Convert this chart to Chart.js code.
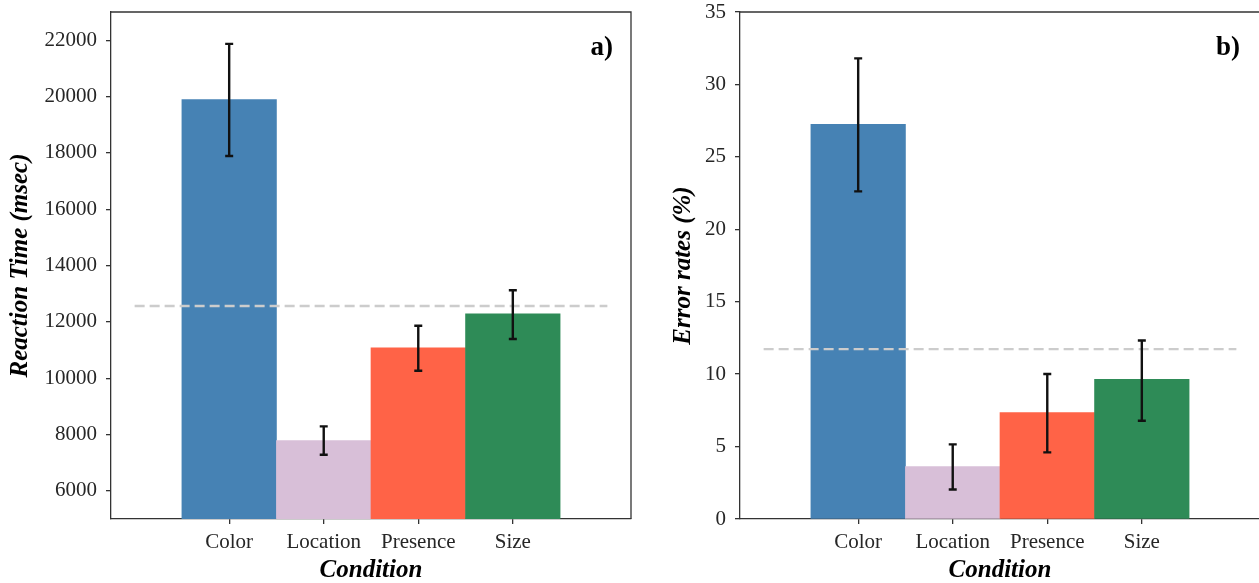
<!DOCTYPE html>
<html>
<head>
<meta charset="utf-8">
<script src="https://cdn.jsdelivr.net/npm/chart.js@4"></script>
<style>
  html, body { margin: 0; padding: 0; background: #fff; width: 1259px; height: 583px; overflow: hidden; }
  canvas { position: absolute; top: 0; }
  #rt { left: 0; }
  #err { left: 629px; }
</style>
</head>
<body>
<canvas id="rt" width="640" height="583"></canvas>
<canvas id="err" width="632" height="583"></canvas>
<script>
// conditions on the x axis
var conditions = ['Color', 'Location', 'Presence', 'Size'];
var barColors = ['#4682b4', '#d8bfd8', '#ff6347', '#2e8b57'];

// a) reaction time, msec
var rtMean = [19890, 7780, 11075, 12280];
var rtLow  = [17890, 7280, 10265, 11390];
var rtHigh = [21870, 8290, 11860, 13120];
var rtGrand = 12560;
var rtTicks = [6000, 8000, 10000, 12000, 14000, 16000, 18000, 20000, 22000];

// b) error rates, %
var errMean = [27.25, 3.62, 7.35, 9.65];
var errLow  = [22.62, 2.04, 4.60, 6.78];
var errHigh = [31.80, 5.15, 10.01, 12.32];
var errGrand = 11.73;
var errTicks = [0, 5, 10, 15, 20, 25, 30, 35];

var AXIS = '#333333';
var SERIF = "'Liberation Serif', 'Times New Roman', serif";

// top + right spines
var frame = {
  id: 'frame',
  afterDraw: function(chart) {
    var a = chart.chartArea, c = chart.ctx;
    c.save();
    c.strokeStyle = AXIS;
    c.lineWidth = 1.3;
    c.beginPath();
    c.moveTo(a.left, a.top);
    c.lineTo(a.right, a.top);
    c.lineTo(a.right, a.bottom);
    c.stroke();
    c.restore();
  }
};

// error bars + panel letter
var extras = {
  id: 'extras',
  afterDatasetsDraw: function(chart, args, opts) {
    var c = chart.ctx, xs = chart.scales.x, ys = chart.scales.y;
    c.save();
    c.strokeStyle = '#111';
    c.lineWidth = 2.4;
    for (var i = 0; i < opts.low.length; i++) {
      var x = xs.getPixelForValue(i);
      var y1 = ys.getPixelForValue(opts.low[i]);
      var y2 = ys.getPixelForValue(opts.high[i]);
      c.beginPath();
      c.moveTo(x, y1); c.lineTo(x, y2);
      c.moveTo(x - 4, y1); c.lineTo(x + 4, y1);
      c.moveTo(x - 4, y2); c.lineTo(x + 4, y2);
      c.stroke();
    }
    var a = chart.chartArea;
    c.fillStyle = '#000';
    c.font = 'bold 27px ' + SERIF;
    c.textAlign = 'right';
    c.textBaseline = 'alphabetic';
    c.fillText(opts.letter, a.right - opts.inset, a.top + 43);
    c.restore();
  }
};

function makeChart(id, means, low, high, grand, ticks, yMin, yMax, yTitle, titlePad, padRight, letter, inset) {
  var pts = means.map(function(v, i) { return { x: i, y: v }; });
  return new Chart(document.getElementById(id), {
    type: 'bar',
    data: {
      datasets: [{
        type: 'bar',
        data: pts,
        backgroundColor: barColors,
        borderWidth: 0,
        barPercentage: 1,
        categoryPercentage: 1,
        order: 2
      }, {
        type: 'line',
        data: [{ x: -1, y: grand }, { x: 4, y: grand }],
        borderColor: '#cccccc',
        borderWidth: 2.4,
        borderDash: [10, 5],
        pointRadius: 0,
        order: 1
      }]
    },
    options: {
      responsive: false,
      animation: false,
      devicePixelRatio: 1,
      layout: { padding: { top: 12, right: padRight, bottom: 0, left: 0 } },
      plugins: {
        legend: { display: false },
        tooltip: { enabled: false },
        extras: { low: low, high: high, letter: letter, inset: inset }
      },
      scales: {
        x: {
          type: 'linear',
          min: -1.25,
          max: 4.25,
          offset: false,
          afterBuildTicks: function(s) { s.ticks = [0, 1, 2, 3].map(function(v) { return { value: v }; }); },
          afterFit: function(s) { s.height = 64; s.paddingLeft = 0; s.paddingRight = 0; },
          ticks: {
            callback: function(v) { return conditions[v]; },
            font: { family: SERIF, size: 21 },
            color: '#262626',
            padding: 6,
            maxRotation: 0,
            autoSkip: false
          },
          grid: { offset: false, drawOnChartArea: false, drawTicks: true, tickLength: 5, color: AXIS, lineWidth: 1.3 },
          border: { display: true, color: AXIS, width: 1.3 },
          title: {
            display: true,
            text: 'Condition',
            font: { family: SERIF, size: 25, style: 'italic', weight: 'bold' },
            color: '#000',
            padding: { top: 0, bottom: -3 }
          }
        },
        y: {
          min: yMin,
          max: yMax,
          afterBuildTicks: function(s) { s.ticks = ticks.map(function(v) { return { value: v }; }); },
          afterFit: function(s) { s.width = 111; s.paddingTop = 0; s.paddingBottom = 0; },
          ticks: {
            callback: function(v) { return String(v); },
            font: { family: SERIF, size: 21 },
            color: '#262626',
            padding: 9
          },
          grid: { drawOnChartArea: false, drawTicks: true, tickLength: 5, color: AXIS, lineWidth: 1.3 },
          border: { display: true, color: AXIS, width: 1.3 },
          title: {
            display: true,
            text: yTitle,
            font: { family: SERIF, size: 25, style: 'italic', weight: 'bold' },
            color: '#000',
            padding: { top: titlePad, bottom: 0 }
          }
        }
      }
    },
    plugins: [frame, extras]
  });
}

makeChart('rt', rtMean, rtLow, rtHigh, rtGrand, rtTicks, 5000, 23000,
  'Reaction Time (msec)', 6, 9, 'a)', 18);
makeChart('err', errMean, errLow, errHigh, errGrand, errTicks, 0, 35,
  'Error rates (%)', 40, 1, 'b)', 20);
</script>
</body>
</html>
